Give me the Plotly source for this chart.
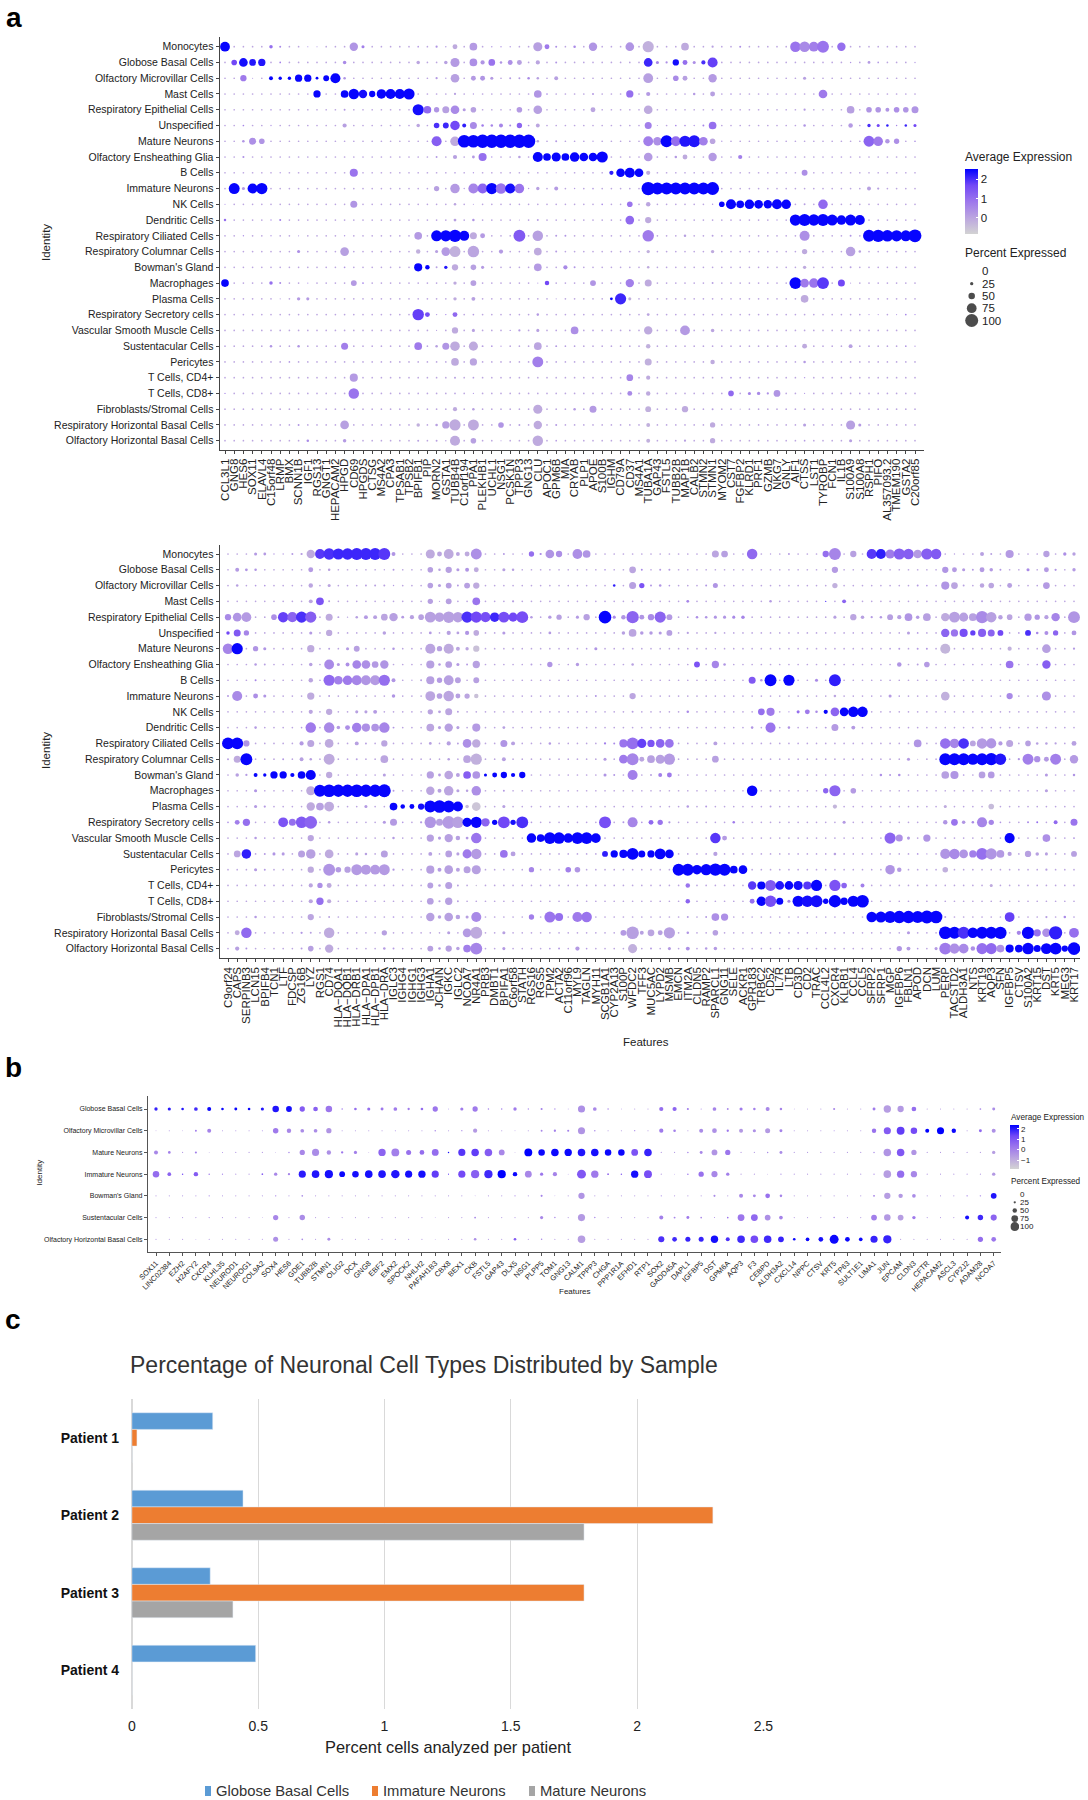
import plotly.graph_objects as go

W, H = 1088, 1800

cells_a = ["Monocytes", "Globose Basal Cells", "Olfactory Microvillar Cells", "Mast Cells", "Respiratory Epithelial Cells",
           "Unspecified", "Mature Neurons", "Olfactory Ensheathing Glia", "B Cells", "Immature Neurons", "NK Cells",
           "Dendritic Cells", "Respiratory Ciliated Cells", "Respiratory Columnar Cells", "Bowman's Gland", "Macrophages",
           "Plasma Cells", "Respiratory Secretory cells", "Vascular Smooth Muscle Cells", "Sustentacular Cells", "Pericytes",
           "T Cells, CD4+", "T Cells, CD8+", "Fibroblasts/Stromal Cells", "Respiratory Horizontal Basal Cells",
           "Olfactory Horizontal Basal Cells"]

genes_a1 = ["CCL3L1", "GNG8", "HES6", "SOX11", "ELAVL4", "C15orf48", "LRMP", "BMX", "SCNN1B", "IGF1", "RGS13", "GNGT1",
            "HEPACAM2", "HPGD", "CD69", "HPGDS", "CTSG", "MS4A2", "CPA3", "TPSAB1", "TPSB2", "BPIFB1", "PIP", "MORN2",
            "GSTA1", "TUBB4B", "C1orf194", "PPA1", "PLEKHB1", "UCHL1", "NSG1", "PCSK1N", "TPPP3", "GNG13", "CLU", "APOC1",
            "GPM6B", "MIA", "CRYAB", "PLP1", "APOE", "S100B", "IGHM", "CD79A", "CD37", "MS4A1", "TUBA1A", "GAP43", "FSTL5",
            "TUBB2B", "MAP1B", "CALB2", "STMN2", "STMN1", "MYOM2", "CST7", "FGFBP2", "KLRD1", "PRF1", "GZMB", "NKG7", "GNLY",
            "AIF1", "CTSS", "LST1", "TYROBP", "FCN1", "IL1B", "S100A9", "S100A8", "RSPH1", "PIFO", "AL357093.2", "TMEM190",
            "GSTA2", "C20orf85"]

genes_a2 = ["C9orf24", "CAPS", "SERPINB3", "LCN15", "BPIFB4", "TCN1", "LTF", "FDCSP", "ZG16B", "LYZ", "RGS1", "CD74",
            "HLA−DQA1", "HLA−DQB1", "HLA−DRB1", "HLA−DPA1", "HLA−DPB1", "HLA−DRA", "IGLC3", "IGHG4", "IGHG1", "IGHG3",
            "IGHA1", "JCHAIN", "IGKC", "IGLC2", "NCOA7", "NR4A1", "PRB3", "DMBT1", "BPIFA1", "C6orf58", "STATH", "RGS16",
            "RGS5", "TPM2", "ACTA2", "C11orf96", "MYL9", "TAGLN", "MYH11", "SCGB1A1", "CYP2A13", "S100P", "WFDC2", "TFF3",
            "MUC5AC", "LYPD2", "MSMB", "EMCN", "ITM2A", "CLDN5", "RAMP2", "SPARCL1", "GNG11", "SELE", "ACKR1", "GPR183",
            "TRBC2", "CD52", "IL7R", "LTB", "CD3D", "CD2", "TRAC", "CCL4L2", "CXCR4", "KLRB1", "CCL4", "CCL5", "SFRP2",
            "SFRP1", "MGP", "IGFBP6", "FBLN1", "APOD", "DCN", "LUM", "PERP", "TACSTD2", "ALDH3A1", "NTS", "KRT19", "AQP3",
            "SFN", "IGFBP5", "CTSV", "S100A2", "KRT15", "DST", "KRT5", "MEG3", "KRT17"]

cells_b = ["Globose Basal Cells", "Olfactory Microvillar Cells", "Mature Neurons", "Immature Neurons", "Bowman's Gland",
           "Sustentacular Cells", "Olfactory Horizontal Basal Cells"]

genes_b = ["SOX11", "LINC02384", "EZH2", "H2AFY2", "CXCR4", "KLHL35", "NEUROD1", "NEUROG1", "COL9A2", "SOX4", "HES6", "GDE1",
           "TUBB2B", "STMN1", "OLIG2", "DCX", "GNG8", "EBF2", "EMX2", "SPOCK2", "NHLH2", "PAFAH1B3", "CBX8", "BEX1", "CKB",
           "FSTL5", "GAP43", "DLX5", "NSG1", "PLPP5", "TOM1", "GNG13", "CALM1", "TPPP3", "CHGA", "PPP1R1A", "EFHD1", "RTP1",
           "SOX2", "GADD45A", "DAPL1", "IGFBP5", "DST", "GPM6A", "AQP3", "F3", "CEBPD", "ALDH3A2", "CXCL14", "NPPC", "CTSV",
           "KRT5", "TP63", "SULT1E1", "LIMA1", "JUN", "EPCAM", "CLDN3", "CFTR", "HEPACAM2", "ASCL3", "CYP2J2", "ADAM28", "NCOA7"]

# cells not listed below are the faint background dots
background_a = (12, 0.0)
background_b = (11, -0.5)

# one list per cell type: (gene index, percent expressed, average expression)
dots_a1 = [
    [(0,70,2.5),(5,25,1.0),(6,14,.5),(9,8,.5),(10,8,.3),(14,60,.3),(15,22,.7),(21,12,.2),(23,16,.3),(24,10,.2),(25,35,-.1),(27,55,.2),(29,10,.3),(30,10,.3),(31,10,.3),(34,65,.1),(35,35,.8),(36,14,.4),(38,18,.5),(40,60,.3),(44,62,.3),(46,80,-.2),(50,55,-.1),(53,16,.1),(56,14,.4),(62,75,.9),(63,75,.5),(64,70,.7),(65,85,.9),(67,60,1.0)],
    [(1,40,1.7),(2,62,2.4),(3,48,2.3),(4,52,2.3),(6,12,.8),(13,25,.5),(21,25,0),(24,25,.1),(25,65,.2),(27,55,.4),(28,30,.3),(29,48,.9),(30,18,.3),(31,35,.4),(32,35,.1),(34,30,0),(36,14,.3),(46,62,2.1),(47,22,.6),(48,16,.4),(49,45,2.4),(50,35,1.0),(51,22,.4),(52,30,2.0),(53,72,1.8),(68,10,.3),(70,20,.2),(71,12,.3),(75,10,.2)],
    [(2,45,.8),(3,8,.3),(5,28,2.5),(6,24,2.5),(7,24,2.5),(8,52,2.5),(9,52,2.5),(10,20,2.5),(11,42,2.5),(12,72,2.5),(13,18,.3),(21,12,.1),(23,16,.2),(24,10,.2),(25,62,.1),(27,35,.2),(28,35,.3),(29,22,.2),(31,14,.2),(32,14,.2),(33,18,.5),(34,18,.1),(36,28,.1),(46,70,.1),(49,40,.5),(50,35,.1),(53,60,.2),(63,22,.1)],
    [(10,52,2.5),(13,55,2.5),(14,75,2.5),(15,60,2.4),(16,45,2.5),(17,68,2.5),(18,72,2.5),(19,72,2.5),(20,80,2.5),(21,12,.1),(25,16,.1),(27,10,.2),(34,55,.3),(35,12,.5),(40,14,.2),(44,52,1.0),(46,30,.2),(51,18,.2),(53,35,.1),(55,12,.2),(65,62,.8)],
    [(5,12,.2),(13,14,.2),(21,80,2.4),(22,55,1.1),(23,38,.3),(24,50,.1),(25,62,.5),(26,22,.2),(27,40,.1),(32,40,.2),(34,62,.1),(40,35,0),(46,62,-.1),(63,16,.2),(68,55,.1),(70,40,.3),(71,40,.3),(72,28,.3),(73,40,.4),(74,40,.3),(75,50,.3)],
    [(2,12,.6),(5,10,.3),(13,30,.1),(21,25,0),(23,40,2.0),(24,42,2.1),(25,68,1.7),(26,28,2.2),(27,50,.5),(28,18,.8),(29,18,.6),(30,28,.6),(31,14,.5),(32,38,1.2),(33,12,.3),(34,28,0),(46,50,.7),(47,8,.3),(49,12,.5),(50,12,.4),(51,10,.4),(52,14,.6),(53,55,1.0),(63,18,.3),(68,32,.2),(70,24,2.0),(71,22,1.7),(72,18,2.2),(73,10,.6),(74,18,2.1),(75,22,1.7)],
    [(2,18,.3),(3,50,.4),(4,40,.3),(23,72,1.3),(25,68,-.1),(26,90,2.5),(27,90,2.5),(28,95,2.5),(29,95,2.5),(30,95,2.5),(31,95,2.5),(32,95,2.5),(33,95,2.5),(34,18,.1),(36,14,.2),(40,10,.2),(46,70,.7),(47,60,.4),(48,85,2.5),(49,70,1.0),(50,80,2.3),(51,85,2.3),(52,62,.7),(53,40,.0),(54,10,.2),(70,78,1.2),(71,68,.8),(72,32,.3),(73,38,.4),(75,12,.3)],
    [(2,15,.4),(23,14,.2),(25,30,.1),(27,20,.2),(28,58,1.0),(29,10,.4),(32,18,.1),(34,72,2.5),(35,55,2.5),(36,65,2.5),(37,55,2.5),(38,68,2.5),(39,62,2.5),(40,62,2.5),(41,80,2.5),(46,62,.2),(47,12,.3),(49,18,.2),(50,35,-.1),(53,60,.2),(56,30,.7)],
    [(6,10,.3),(14,58,.9),(25,12,.1),(27,10,.2),(36,8,.2),(42,30,2.2),(43,62,2.5),(44,72,2.5),(45,62,2.5),(46,30,-.1),(63,42,.4)],
    [(1,78,2.5),(2,22,.2),(3,72,2.5),(4,80,2.5),(23,38,.1),(25,68,.2),(26,10,.2),(27,72,.6),(28,72,1.2),(29,80,2.5),(30,75,.9),(31,72,2.4),(32,68,.9),(33,10,.2),(34,24,.1),(36,28,.2),(38,10,.2),(40,12,.2),(46,95,2.5),(47,85,2.5),(48,85,2.5),(49,85,2.5),(50,85,2.5),(51,85,2.5),(52,85,2.5),(53,92,2.5),(70,28,.1),(71,16,.1)],
    [(0,8,.5),(14,50,.3),(25,18,0),(27,8,.2),(41,12,.5),(44,40,.9),(46,32,0),(53,10,.3),(54,40,2.5),(55,72,2.5),(56,55,2.5),(57,68,2.5),(58,62,2.5),(59,60,2.5),(60,72,2.5),(61,68,2.5),(63,14,.1),(65,68,1.1)],
    [(0,18,1.0),(5,10,.5),(6,14,.7),(21,10,.2),(25,20,.1),(27,18,.3),(32,8,.2),(34,14,.1),(44,62,1.1),(46,45,-.1),(60,10,.3),(62,80,2.5),(63,85,2.5),(64,82,2.5),(65,85,2.5),(66,78,2.5),(67,68,2.5),(68,78,2.5),(69,72,2.5)],
    [(2,10,.4),(5,10,.3),(8,8,.3),(13,10,.3),(21,55,.2),(23,78,2.5),(24,80,2.5),(25,88,2.5),(26,72,2.5),(27,50,-.1),(28,35,.2),(32,85,1.4),(34,75,.1),(36,14,.2),(37,14,.3),(46,82,.8),(50,18,.1),(53,14,.1),(63,72,.4),(68,14,.3),(70,85,2.5),(71,88,2.5),(72,82,2.5),(73,80,2.5),(74,78,2.5),(75,92,2.5)],
    [(8,22,.4),(13,62,.1),(21,32,-.2),(23,22,.1),(24,62,.2),(25,78,-.2),(27,82,0),(30,30,.2),(32,12,.1),(34,55,-.1),(36,14,.2),(46,24,-.2),(53,24,-.1),(63,38,-.1),(68,68,.1),(69,18,.1)],
    [(13,12,.3),(21,58,2.5),(22,32,2.5),(23,14,.1),(24,24,2.3),(25,45,-.1),(27,40,.1),(28,22,.2),(34,55,.2),(37,30,.5),(38,14,.3),(46,18,-.1),(63,24,-.1),(68,14,.1)],
    [(0,55,2.5),(5,25,1.0),(6,14,.5),(9,8,.5),(14,42,.2),(15,12,.7),(25,24,-.1),(27,42,.1),(34,8,.2),(35,32,1.7),(40,42,.3),(44,60,.7),(46,50,-.1),(53,14,.1),(62,85,2.5),(63,62,.8),(64,68,.9),(65,85,1.9),(67,50,1.7),(68,8,.2)],
    [(6,8,.2),(8,24,.2),(9,22,.2),(25,24,-.1),(27,28,.1),(36,8,.1),(42,20,2.5),(43,80,2.1),(44,22,-.2),(63,55,-.1)],
    [(21,82,1.8),(22,35,1.6),(23,10,.2),(24,10,.6),(25,35,1.1),(27,12,.2),(34,18,.2),(46,20,0),(70,8,.4),(71,8,.3),(73,8,.3),(74,12,.6),(75,10,.5)],
    [(23,8,.1),(25,45,-.1),(27,22,.1),(31,10,.3),(32,16,.2),(34,22,.1),(36,12,.1),(38,55,.4),(40,12,.2),(46,60,-.1),(50,70,.2),(53,25,0)],
    [(5,18,.3),(8,18,.3),(13,50,.7),(21,55,.8),(23,18,.1),(24,50,.3),(25,68,-.1),(27,65,-.1),(28,14,.1),(29,12,.2),(30,10,.2),(34,55,.0),(36,14,.2),(37,12,.1),(38,12,.1),(46,32,-.2),(63,35,-.1),(68,28,.1),(70,12,.2),(74,12,.3),(75,10,.2)],
    [(7,12,.3),(25,55,-.1),(27,52,0),(34,78,.7),(36,12,.1),(46,50,-.2),(50,12,.1),(53,32,-.1),(63,18,.2)],
    [(14,58,.2),(25,14,.1),(27,12,.2),(44,48,.6),(46,30,-.1),(55,12,.3),(63,10,.3)],
    [(0,10,.5),(14,75,.9),(25,12,.1),(27,8,.3),(44,35,.5),(46,32,-.1),(55,40,1.1),(57,22,.6),(58,24,.5),(59,16,.4),(60,48,.3),(63,8,.3)],
    [(9,8,.2),(25,30,-.1),(27,18,.1),(34,65,-.1),(38,18,.2),(39,12,.2),(40,50,.2),(46,42,-.2),(50,45,-.1),(53,14,.1),(56,8,.1)],
    [(8,14,.3),(13,62,.1),(21,25,-.2),(23,18,.1),(24,52,.1),(25,80,-.1),(27,78,-.1),(30,40,.3),(32,14,.1),(34,60,-.1),(36,14,.2),(46,28,-.2),(53,38,-.1),(63,22,.1),(68,65,.1),(69,22,.2)],
    [(9,18,.5),(13,25,.2),(21,14,.1),(23,14,.1),(24,10,.1),(25,72,-.1),(27,40,.1),(30,8,.2),(34,75,-.1),(36,12,.2),(46,28,-.2),(50,16,.1),(53,38,-.1),(63,12,.2),(68,22,.1)],
]

dots_a2 = [
    [(3,22,.2),(4,20,.2),(5,10,.2),(6,10,.2),(7,14,.2),(8,16,.2),(9,60,-.1),(10,70,1.9),(11,82,2.0),(12,80,2.1),(13,82,2.1),(14,85,2.1),(15,85,2.1),(16,85,2.1),(17,85,1.9),(18,28,.3),(22,65,-.1),(23,35,0),(24,70,-.1),(25,28,0),(26,35,-.1),(27,78,.4),(30,14,.2),(32,10,.1),(33,38,1.0),(34,16,.5),(35,62,.3),(36,45,.4),(38,70,.4),(39,55,.3),(53,50,.0),(54,48,.1),(57,75,1.1),(59,10,.1),(61,14,.2),(65,45,1.0),(66,85,.6),(68,45,.1),(70,72,1.9),(71,72,2.2),(72,65,.8),(73,80,1.3),(74,75,1.3),(75,62,.2),(76,80,1.3),(77,75,1.4),(79,10,.1),(82,28,.1),(83,14,.1),(85,58,.2),(89,45,.1),(91,24,.4),(92,24,.1)],
    [(1,28,.2),(2,20,.3),(3,18,.3),(9,35,.2),(11,18,.1),(17,10,.1),(18,14,.2),(22,40,.1),(23,18,.1),(24,45,.1),(25,22,.2),(26,28,.3),(27,35,-.1),(30,22,.1),(31,18,.1),(41,12,.3),(44,48,0),(45,14,.5),(47,14,.2),(48,14,.2),(66,45,.2),(78,45,.3),(79,35,.2),(80,22,.2),(81,14,.2),(82,35,.2),(83,25,.2),(84,14,.3),(87,22,.5),(89,35,.2),(90,16,.3),(92,24,.2)],
    [(1,18,.1),(3,12,.2),(4,12,.2),(9,32,0),(11,22,.0),(15,14,.1),(16,14,.1),(17,14,.1),(18,10,.2),(22,40,.1),(23,22,.1),(24,42,.1),(25,14,.2),(26,42,.1),(27,45,-.1),(42,18,2.2),(44,50,.1),(45,38,1.5),(46,14,.3),(47,18,.3),(48,12,.3),(52,14,.3),(53,36,.3),(66,38,-.2),(75,14,.2),(76,12,.2),(78,58,.3),(79,48,.0),(80,14,.1),(82,32,0),(83,40,0),(85,35,.1),(89,48,.2)],
    [(9,28,0),(10,55,1.5),(11,14,.1),(22,38,.1),(23,10,.1),(24,42,.1),(25,12,.1),(27,55,.9),(31,16,.1),(50,20,.6),(59,18,.2),(65,10,2.0),(67,28,1.2),(82,14,.1)],
    [(0,45,.5),(1,62,.3),(2,70,.2),(5,40,.4),(6,75,1.8),(7,72,1.2),(8,80,2.0),(9,80,1.3),(11,50,-.1),(12,14,.1),(13,10,.1),(14,18,.1),(15,28,.2),(16,28,.1),(17,48,0),(18,60,.1),(19,20,.2),(20,30,.1),(21,40,.1),(22,78,.1),(23,68,.1),(24,82,.1),(25,75,.1),(26,80,2.0),(27,80,1.7),(28,72,1.6),(29,68,2.1),(30,78,1.6),(31,65,1.7),(32,85,1.6),(33,18,.2),(35,24,.2),(36,38,.1),(38,22,.2),(39,45,.1),(41,90,2.5),(42,22,.5),(43,32,.3),(44,88,1.2),(45,35,.3),(46,45,.5),(47,80,1.2),(48,42,.2),(50,12,.2),(51,18,.4),(52,18,.3),(53,22,.3),(54,22,.3),(55,22,.5),(56,25,.6),(66,22,.1),(68,45,0),(69,25,.1),(70,16,.2),(71,18,.2),(72,42,.1),(73,30,.1),(74,55,.3),(75,25,.2),(76,55,.1),(78,60,-.1),(79,78,.1),(80,65,.1),(81,55,.1),(82,88,.5),(83,75,.1),(84,32,.1),(85,40,0),(87,52,.2),(88,38,.3),(89,30,.1),(90,60,.6),(92,85,.3)],
    [(0,25,1.7),(1,50,1.4),(2,38,.6),(9,22,.2),(11,45,-.1),(17,25,.1),(22,20,.2),(24,30,.1),(25,20,.1),(26,30,.3),(27,40,-.1),(30,22,.2),(35,20,.2),(43,25,.1),(44,55,0),(45,25,.2),(46,25,.2),(47,22,.2),(48,42,.1),(50,16,.1),(53,16,.1),(74,22,.1),(75,12,.2),(78,60,1.2),(79,52,.9),(80,58,1.6),(81,38,1.8),(82,58,1.3),(83,50,1.2),(84,42,1.7),(86,12,.2),(87,42,2.0),(88,18,.6),(89,28,.4),(90,38,1.2),(92,35,.3)],
    [(0,75,.6),(1,80,2.5),(3,38,.3),(4,22,.3),(9,52,-.1),(11,14,.1),(13,22,.2),(14,42,.1),(18,18,.3),(22,72,0),(23,38,.1),(24,72,-.1),(25,28,0),(26,24,0),(27,45,-.5),(39,12,.2),(40,22,.3),(53,10,.2),(72,12,.2),(73,14,.2),(75,14,.2),(76,14,.2),(78,72,-.3),(85,30,-.2),(89,62,.1),(92,16,.2)],
    [(3,18,.2),(4,14,.1),(9,25,.1),(11,70,.5),(12,22,.2),(13,28,.4),(14,62,.6),(15,62,.4),(16,48,.2),(17,60,.3),(22,58,.1),(23,18,.2),(24,48,.1),(25,22,.2),(26,14,.2),(27,52,.1),(33,14,.1),(35,38,.3),(36,10,.1),(38,24,.2),(44,18,.1),(51,42,1.5),(53,52,.6),(54,18,.3),(73,32,.3),(75,14,.1),(76,40,.2),(85,55,.9),(89,60,1.3),(91,12,.1)],
    [(3,14,.6),(9,32,0),(11,80,1.1),(12,62,.7),(13,68,.8),(14,72,.6),(15,70,.3),(16,72,.2),(17,80,1.0),(18,28,.3),(20,10,.1),(21,14,.1),(22,58,.1),(23,38,.2),(24,70,.1),(25,42,.1),(27,42,.1),(57,50,1.4),(58,18,.2),(59,85,2.5),(61,80,2.5),(64,22,.5),(66,85,2.2)],
    [(0,14,.2),(1,72,.5),(3,35,.4),(4,22,.3),(9,52,-.1),(11,14,.1),(18,25,.3),(22,70,0),(23,40,.1),(24,75,0),(25,35,.1),(26,38,0),(27,32,-.5),(40,14,.3),(44,45,0),(66,18,0),(72,22,.2),(73,12,.2),(78,62,-.2),(85,45,.5),(89,65,.4)],
    [(9,30,0),(10,12,.1),(11,45,-.1),(14,22,.1),(15,22,.1),(16,28,.2),(22,38,0),(23,20,.1),(24,50,0),(25,14,.1),(44,14,.1),(50,18,.5),(58,48,1.0),(59,58,.8),(61,10,.4),(62,22,1.0),(63,35,.8),(64,18,.5),(65,30,2.5),(66,62,1.2),(67,62,2.5),(68,75,2.5),(69,75,2.5)],
    [(3,18,.2),(8,12,.2),(9,75,.8),(11,75,.5),(12,25,.2),(13,35,.4),(14,68,.7),(15,58,.4),(16,55,.3),(17,75,.6),(18,14,.3),(22,55,0),(23,22,.1),(24,60,.1),(25,22,.1),(27,58,.2),(30,20,.1),(57,18,.3),(59,72,.9),(61,18,.3),(65,14,.2),(66,50,.2),(68,28,.2)],
    [(0,85,2.5),(1,85,2.5),(2,45,.3),(8,30,.2),(9,50,0),(11,62,-.1),(14,28,.1),(15,14,.1),(17,45,0),(22,20,.1),(24,30,.1),(25,14,.1),(26,62,.4),(27,60,-.1),(30,50,.3),(31,28,.1),(35,18,.2),(41,16,.7),(42,14,.5),(43,58,.9),(44,85,1.0),(45,65,1.8),(46,52,1.5),(47,62,1.2),(48,62,.9),(53,28,.1),(75,55,.3),(78,75,1.0),(79,68,.6),(80,75,2.0),(81,42,.0),(82,75,.2),(83,72,.3),(84,30,.2),(85,50,0),(87,40,.1),(88,18,.1),(89,18,.1),(90,16,.1),(92,35,.1)],
    [(0,14,.1),(1,50,-.1),(2,85,2.5),(6,14,.2),(8,28,.1),(9,18,.1),(11,78,-.1),(14,14,.1),(17,55,0),(24,18,.1),(26,55,.0),(27,80,-.2),(30,28,.1),(41,22,.2),(43,62,.8),(44,85,.6),(45,35,.0),(46,55,.1),(47,65,.1),(48,80,.2),(53,48,.1),(74,22,.2),(75,8,.1),(78,85,2.5),(79,85,2.5),(80,85,2.5),(81,80,2.5),(82,85,2.5),(83,88,2.5),(84,82,2.3),(86,16,.3),(87,78,.7),(88,45,.4),(89,35,.2),(90,78,.7),(92,60,.2)],
    [(1,25,.1),(2,16,.2),(3,28,2.5),(4,24,2.5),(5,52,2.5),(6,52,2.5),(7,30,2.5),(8,55,2.5),(9,72,2.5),(11,45,-.1),(17,22,.1),(22,52,.1),(23,20,.2),(24,62,0),(25,28,.1),(26,55,1.3),(27,55,.3),(28,22,2.5),(29,35,2.5),(30,45,2.5),(31,30,2.5),(32,45,2.5),(41,22,.3),(42,14,.3),(44,72,.7),(46,14,.1),(47,28,.7),(48,35,.8),(71,18,.4),(72,14,.3),(73,18,.4),(78,55,.1),(79,58,.3),(80,12,.2),(82,48,.1),(83,48,.2),(89,22,.2),(92,18,.3)],
    [(3,22,.3),(9,65,-.1),(10,85,2.5),(11,90,2.5),(12,88,2.5),(13,88,2.5),(14,90,2.5),(15,88,2.5),(16,88,2.5),(17,92,2.5),(18,14,.2),(22,60,0),(23,28,.1),(24,68,0),(25,22,.1),(26,18,.1),(27,68,.4),(30,14,.2),(57,75,2.5),(59,14,.1),(65,38,1.2),(66,80,1.2),(68,40,.2),(89,22,.1)],
    [(3,22,.2),(4,16,.2),(9,60,-.1),(10,55,.1),(11,70,-.1),(15,22,.2),(18,55,2.5),(19,32,2.5),(20,35,2.5),(21,45,2.4),(22,85,2.5),(23,90,2.5),(24,85,2.5),(25,72,2.5),(26,25,-.4),(27,62,-.6),(30,22,.1),(50,18,.2),(52,14,.2),(59,14,.1),(66,30,-.3),(78,22,-.1),(83,40,-.4)],
    [(0,12,.4),(1,35,.7),(2,52,1.0),(6,70,1.5),(7,50,1.0),(8,82,1.4),(9,90,1.2),(11,18,.2),(17,22,.2),(18,50,.2),(19,12,.2),(21,16,.2),(22,82,.3),(23,50,.1),(24,90,.2),(25,82,.1),(26,65,2.5),(27,80,2.5),(28,60,1.2),(29,38,2.5),(30,85,1.7),(31,38,2.4),(32,85,2.0),(33,12,.2),(41,85,1.6),(43,14,.3),(44,72,.6),(45,12,.3),(46,35,1.1),(47,38,.9),(48,16,.3),(55,18,.8),(67,22,.2),(78,32,.3),(79,48,.9),(80,25,.3),(81,18,.5),(82,72,.6),(83,38,.6),(84,12,.3),(87,14,.5),(88,14,1.0),(90,28,1.1),(92,50,.9)],
    [(3,18,.2),(4,12,.1),(9,45,0),(18,18,.2),(22,52,.1),(23,22,.2),(24,60,.1),(25,32,.1),(26,20,.2),(27,75,.9),(33,68,2.5),(34,55,2.5),(35,85,2.5),(36,82,2.5),(37,68,2.5),(38,85,2.5),(39,85,2.5),(40,70,2.5),(53,75,1.9),(54,35,.2),(70,12,.1),(72,80,1.2),(73,50,.4),(74,22,.2),(76,52,.3),(78,14,.1),(85,72,2.5),(89,55,.4),(92,14,.2)],
    [(1,48,0),(2,68,2.2),(4,14,.2),(5,22,.3),(6,22,.2),(8,50,.1),(9,68,.1),(11,62,-.1),(14,22,.1),(15,18,.1),(17,50,.1),(22,28,.1),(24,48,.1),(25,22,.1),(26,65,.8),(27,75,.2),(30,55,.9),(31,35,.1),(41,42,2.2),(42,52,2.5),(43,58,2.5),(44,85,2.5),(45,50,2.5),(46,52,2.5),(47,78,2.5),(48,62,2.5),(53,30,.1),(66,18,.1),(75,12,.2),(76,10,.2),(78,72,.3),(79,75,.5),(80,62,.3),(81,52,.7),(82,85,1.0),(83,80,.3),(84,55,.2),(85,30,.1),(87,45,.1),(88,25,.1),(89,22,.1),(92,42,.1)],
    [(3,22,.2),(4,14,.2),(9,45,-.1),(11,85,.3),(12,40,.2),(13,45,.1),(14,78,.2),(15,72,.2),(16,70,.2),(17,78,.2),(18,16,.3),(22,58,.1),(23,28,.2),(24,62,.1),(25,28,.1),(26,50,.1),(27,65,.1),(33,38,.6),(37,40,.7),(38,40,.3),(49,85,2.5),(50,85,2.5),(51,68,2.5),(52,80,2.5),(53,88,2.5),(54,85,2.5),(55,55,2.5),(56,62,2.5),(72,68,.3),(73,32,.2),(78,40,-.2),(89,16,.1)],
    [(9,30,0),(10,38,.4),(11,35,-.1),(22,42,.1),(23,18,.1),(24,50,.1),(25,14,.1),(27,10,-.4),(50,32,.9),(57,60,1.9),(58,58,2.5),(59,78,1.4),(60,62,2.3),(61,62,2.5),(62,65,2.4),(63,58,1.9),(64,80,2.5),(66,80,1.5),(67,40,1.2),(69,28,.7),(83,22,-.1)],
    [(9,30,0),(10,52,1.0),(11,30,-.1),(14,12,.2),(22,48,.1),(23,16,.1),(24,52,.1),(25,14,.1),(50,32,1.2),(57,35,1.0),(58,68,2.5),(59,82,1.6),(60,50,2.5),(61,22,.6),(62,80,2.5),(63,82,2.4),(64,85,2.4),(65,38,2.5),(66,88,2.5),(67,52,2.5),(68,80,2.5),(69,90,2.5)],
    [(3,18,.2),(9,45,0),(11,14,.1),(18,12,.3),(22,60,.1),(23,25,.1),(24,62,.1),(25,32,.1),(26,22,.1),(27,72,.5),(33,38,.7),(35,78,.9),(36,58,1.0),(38,72,.8),(39,75,.9),(50,14,.2),(52,14,.2),(53,55,.4),(54,52,.4),(70,75,2.5),(71,78,2.5),(72,85,2.5),(73,88,2.5),(74,88,2.5),(75,85,2.5),(76,92,2.5),(77,90,2.5),(78,14,.1),(85,70,1.8),(89,16,.1),(91,18,.5),(92,12,.1)],
    [(1,35,-.1),(2,75,1.1),(8,16,.3),(9,14,.1),(11,75,-.1),(17,38,.1),(24,22,.1),(26,62,.2),(27,85,-.1),(30,22,.1),(43,42,.2),(44,90,.1),(45,28,.1),(46,48,.0),(47,35,.1),(48,80,.1),(50,18,.3),(53,40,.1),(64,8,.2),(74,22,.2),(78,90,2.5),(79,85,2.5),(80,85,2.0),(81,75,2.5),(82,85,2.5),(83,85,2.5),(84,88,2.5),(86,30,.6),(87,88,2.5),(88,52,1.0),(89,60,.4),(90,95,2.2),(92,70,1.0)],
    [(1,30,.1),(2,14,.3),(4,10,.2),(8,14,.2),(9,40,.1),(11,60,-.1),(17,18,.2),(18,14,.2),(22,42,.1),(23,18,.2),(24,45,.1),(25,25,.1),(26,55,.7),(27,85,.6),(30,22,.2),(35,12,.2),(36,14,.2),(38,30,.2),(39,12,.2),(44,65,-.2),(46,14,.2),(48,22,.2),(50,28,.4),(52,18,.2),(53,25,.2),(73,38,.3),(74,28,.2),(75,12,.2),(77,22,.2),(78,85,.8),(79,72,.4),(80,70,.5),(81,32,.4),(82,80,1.0),(83,80,1.1),(84,55,.4),(85,58,2.5),(86,55,2.5),(87,82,2.5),(88,50,2.5),(89,78,2.5),(90,85,2.5),(91,45,2.5),(92,90,2.5)],
]

dots_b = [
    [(0,32,1.9),(1,30,2.0),(2,25,2.1),(3,35,1.8),(4,38,2.3),(5,25,2.3),(6,28,2.3),(7,25,2.3),(8,30,2.1),(9,62,2.1),(10,55,2.2),(11,50,.9),(12,45,.8),(13,62,.3),(14,14,.3),(15,25,.5),(16,30,.5),(17,28,.3),(18,35,.2),(19,22,.2),(20,25,.5),(21,50,.3),(22,8,.5),(23,30,.2),(24,50,.2),(25,14,.1),(26,14,.2),(27,32,.2),(28,12,.1),(29,20,.1),(30,12,.1),(31,8,.1),(32,68,-.3),(33,35,-.1),(34,14,0),(35,8,0),(38,40,.5),(39,40,.7),(40,20,.2),(41,10,0),(42,35,.0),(43,18,-.1),(44,30,.2),(45,24,.1),(46,38,-.1),(47,24,0),(48,8,-.3),(51,20,-.1),(54,28,.2),(55,70,-.6),(56,60,-.5),(57,45,.5),(62,16,.0),(63,28,-.2)],
    [(0,8,-.5),(2,8,-.5),(3,18,.2),(4,38,.0),(8,10,-.2),(9,52,.2),(10,42,-.1),(11,35,-.2),(12,35,-.2),(13,50,-.4),(18,10,-.2),(21,14,-.1),(23,12,0),(24,40,-.5),(27,8,-.2),(29,18,-.1),(30,22,.1),(31,20,.1),(32,68,-.4),(33,14,-.1),(36,12,-.1),(38,40,.2),(39,25,.1),(41,38,-.2),(42,45,-.3),(43,22,.3),(44,38,-.5),(45,30,-.3),(46,48,-.5),(47,28,.0),(51,10,-.2),(54,42,.4),(55,68,.9),(56,75,1.5),(57,62,1.3),(58,38,2.4),(59,68,2.4),(60,42,2.3),(62,28,.6),(63,38,-.3)],
    [(0,38,-.1),(1,25,.1),(3,20,.1),(4,8,-.5),(5,10,-.3),(9,8,-.5),(10,14,0),(11,50,-.1),(12,68,-.2),(13,42,-.3),(14,22,.3),(15,30,.1),(16,8,-.5),(17,70,.7),(18,75,.1),(19,48,.4),(20,45,.5),(21,65,.5),(22,14,2.2),(23,68,1.6),(24,72,1.5),(25,72,.9),(26,55,-.1),(27,8,-.5),(28,75,2.4),(29,62,2.3),(30,72,2.3),(31,70,2.3),(32,72,2.1),(33,72,2.2),(34,62,2.3),(35,62,2.3),(36,65,1.1),(37,72,1.9),(40,14,0),(41,28,-.1),(42,55,-.4),(43,50,.3),(46,14,-.2),(47,28,-.2),(54,14,-.2),(55,72,-.4),(56,72,1.0),(57,50,-.4),(63,32,-.6)],
    [(0,62,.5),(1,35,.7),(2,14,1.3),(3,42,.9),(4,14,.2),(5,12,.1),(8,16,.8),(9,32,-.1),(10,22,0),(11,68,2.0),(12,72,2.1),(13,78,2.2),(14,55,2.3),(15,62,2.2),(16,72,2.2),(17,72,2.1),(18,80,2.1),(19,68,2.2),(20,70,2.2),(21,68,1.5),(22,10,1.5),(23,68,1.3),(24,78,.8),(25,78,1.8),(26,78,2.4),(27,42,2.3),(28,65,-.1),(29,30,.3),(30,40,.0),(31,8,-.1),(32,85,1.0),(33,70,.2),(34,18,.4),(35,14,.9),(36,70,2.2),(37,75,1.2),(39,8,-.2),(40,14,.4),(41,50,.4),(42,58,-.1),(43,32,.1),(46,8,-.4),(47,12,-.2),(54,12,-.1),(55,72,-.6),(56,70,.5),(57,60,-.1),(63,32,-.5)],
    [(4,12,-.1),(9,14,-.1),(11,16,-.2),(27,12,-.1),(24,8,-.1),(29,20,0),(30,8,-.1),(32,60,-.4),(38,12,-.1),(42,20,-.2),(44,38,-.1),(45,28,-.1),(46,45,.4),(47,24,.0),(54,18,-.1),(55,60,-.6),(56,42,-.5),(57,35,-.2),(61,14,.1),(62,14,.0),(63,55,2.1)],
    [(4,12,-.2),(8,8,-.2),(9,50,-.1),(11,52,-.2),(13,10,0),(21,8,-.1),(24,18,-.2),(29,30,-.1),(30,14,-.1),(32,68,-.5),(33,14,-.1),(38,38,.1),(39,18,.0),(40,28,.2),(41,16,-.1),(42,10,-.2),(43,16,.3),(44,65,.3),(45,65,.6),(46,55,-.3),(47,35,.0),(51,14,-.1),(54,55,.1),(55,62,-.5),(56,55,-.6),(57,32,.2),(61,38,2.2),(62,52,1.8),(63,58,.7)],
    [(3,8,-.2),(8,10,-.1),(9,48,-.3),(11,16,-.2),(13,28,-.2),(21,8,-.2),(24,25,-.3),(27,25,.9),(29,14,-.1),(32,72,-.6),(38,58,1.7),(39,45,1.8),(40,48,1.9),(41,48,1.9),(42,70,2.2),(43,38,1.7),(44,72,1.8),(45,72,1.3),(46,72,1.8),(47,55,1.9),(48,25,2.3),(49,35,2.3),(50,45,2.2),(51,85,2.3),(52,45,2.3),(53,35,2.3),(54,68,1.9),(55,78,1.9),(56,12,-.6),(62,50,.5),(63,45,.3)],
]

legend_pct = [0, 25, 50, 75, 100]

patients = ["Patient 1", "Patient 2", "Patient 3", "Patient 4"]
globose = [0.32, 0.44, 0.31, 0.49]
immature = [0.02, 2.3, 1.79, 0]
mature = [0, 1.79, 0.4, 0]

FONT = "Liberation Sans"
INK = "#222222"
# Seurat lightgrey -> blue gradient, interpolated in Lab
GRADIENT = [[0, "#D3D3D3"], [0.25, "#BBA5E0"], [0.5, "#9D77EC"], [0.75, "#7248F6"], [1, "#0000FF"]]


def fx(px):
    return px / W


def fy(px):
    return 1 - px / H


fig = go.Figure()


def dotplot(n, cells, genes, dots, background, scale, coloraxis, box, first, last, ysize, xsize, angle, linecolor):
    # box = left, right, top, bottom of the axes in page pixels
    # first, last = pixel of the first and last column centre
    left, right, top, bottom, row0, rowN = box
    xs, ys, sizes, colors = [], [], [], []
    for i, cell in enumerate(cells):
        found = {j: (p, e) for j, p, e in dots[i]}
        for j, gene in enumerate(genes):
            p, e = found.get(j, background)
            xs.append(gene)
            ys.append(cell)
            sizes.append(p * scale)
            colors.append(e)
    sfx = "" if n == 1 else str(n)
    fig.add_trace(go.Scatter(x=xs, y=ys, mode="markers", xaxis="x" + sfx, yaxis="y" + sfx, showlegend=False,
                             marker=dict(size=sizes, color=colors, coloraxis=coloraxis, line_width=0, opacity=1)))
    colw = (last - first) / (len(genes) - 1)
    rowh = (rowN - row0) / (len(cells) - 1)
    fig.update_layout({
        "xaxis" + sfx: dict(domain=[fx(left), fx(right)], anchor="y" + sfx, type="category", categoryorder="array",
                            categoryarray=genes, tickmode="array", tickvals=genes, ticktext=genes,
                            range=[(left - first) / colw, (right - first) / colw], automargin=False,
                            tickangle=angle, tickfont=dict(size=xsize, color=INK), ticks="outside", ticklen=3,
                            tickcolor=linecolor, showline=True, linecolor=linecolor, linewidth=1.2, showgrid=False, zeroline=False),
        "yaxis" + sfx: dict(domain=[fy(bottom), fy(top)], anchor="x" + sfx, type="category", categoryorder="array",
                            categoryarray=cells, tickmode="array", tickvals=cells, ticktext=cells,
                            range=[(bottom - row0) / rowh, (top - row0) / rowh], automargin=False,
                            tickfont=dict(size=ysize, color=INK), ticks="outside", ticklen=3, tickcolor=linecolor,
                            showline=True, linecolor=linecolor, linewidth=1.2, showgrid=False, zeroline=False),
    })


dotplot(1, cells_a, genes_a1, dots_a1, background_a, 0.14, "coloraxis", (219.6, 924, 37, 450, 46.7, 440.7), 225, 915, 10.5, 11.5, -90, "#444444")
dotplot(2, cells_a, genes_a2, dots_a2, background_a, 0.14, "coloraxis", (219.6, 1080, 544.5, 958.3, 554, 948.6), 228, 1074, 10.5, 11.5, -90, "#444444")
dotplot(3, cells_b, genes_b, dots_b, background_b, 0.105, "coloraxis2", (148, 1001, 1095.7, 1252, 1109, 1239.3), 156, 993.7, 7, 7.4, -45, "#555555")

# panel c
for name, vals, col in [("Globose Basal Cells", globose, "#5B9BD5"), ("Immature Neurons", immature, "#ED7D31"), ("Mature Neurons", mature, "#A5A5A5")]:
    fig.add_trace(go.Bar(y=patients, x=vals, orientation="h", name=name, marker_color=col, xaxis="x4", yaxis="y4", showlegend=False))

# percent expressed legends
pct_labels = [str(p) for p in legend_pct]
for sfx, scale, box, fsize in [("5", 0.13, (962.4, 981, 265, 332), 11.5), ("6", 0.09, (1010.5, 1019, 1189, 1234.5), 8)]:
    fig.add_trace(go.Scatter(x=[0] * len(legend_pct), y=pct_labels, mode="markers", xaxis="x" + sfx, yaxis="y" + sfx,
                             showlegend=False, marker=dict(size=[p * scale for p in legend_pct], color="black", line_width=0)))
    fig.update_layout({
        "xaxis" + sfx: dict(domain=[fx(box[0]), fx(box[1])], anchor="y" + sfx, visible=False, range=[-1, 1], automargin=False),
        "yaxis" + sfx: dict(domain=[fy(box[3]), fy(box[2])], anchor="x" + sfx, side="right", type="category",
                            categoryorder="array", categoryarray=pct_labels, autorange="reversed", automargin=False,
                            tickmode="array", tickvals=pct_labels, ticktext=pct_labels,
                            showline=False, showgrid=False, zeroline=False, ticks="", tickfont=dict(size=fsize, color=INK)),
    })


def label(text, x, y, size, color=INK, bold=False, angle=0, anchor="center", family=FONT):
    fig.add_annotation(text="<b>%s</b>" % text if bold else text, x=fx(x), y=fy(y), xref="paper", yref="paper", showarrow=False,
                       xanchor=anchor, yanchor="middle", textangle=angle, font=dict(size=size, color=color, family=family))


label("a", 4, 17, 28, "black", True, anchor="left")
label("b", 3, 1067, 28, "black", True, anchor="left")
label("c", 3, 1319, 28, "black", True, anchor="left")
label("Identity", 46, 243, 11.5, angle=-90)
label("Identity", 46, 751, 11.5, angle=-90)
label("Identity", 38.6, 1173, 8, angle=-90)
label("Features", 646, 1042, 11.5)
label("Features", 575, 1291.7, 8)
label("Average Expression", 962.7, 157, 12, anchor="left")
label("Percent Expressed", 962.7, 252.7, 12, anchor="left")
label("Average Expression", 1008.5, 1117, 8.2, anchor="left")
label("Percent Expressed", 1008.5, 1181.7, 8.2, anchor="left")
label("Percentage of Neuronal Cell Types Distributed by Sample", 127.5, 1365, 23, "#333333", anchor="left")
label("Percent cells analyzed per patient", 447.6, 1747, 16.4, "#222222")

for text, x, col in [("Globose Basal Cells", 208, "#5B9BD5"), ("Immature Neurons", 375, "#ED7D31"), ("Mature Neurons", 532, "#A5A5A5")]:
    fig.add_shape(type="rect", xref="paper", yref="paper", x0=fx(x - 3), x1=fx(x + 3), y0=fy(1796), y1=fy(1786), fillcolor=col, line_width=0)
    label(text, x + 6, 1791, 14.8, "#333333", anchor="left")

fig.update_layout(
    width=W, height=H, margin=dict(l=0, r=0, t=0, b=0, autoexpand=False), paper_bgcolor="white", plot_bgcolor="white",
    font=dict(family=FONT, color=INK), barmode="group", bargap=0.355, bargroupgap=0,
    coloraxis=dict(colorscale=GRADIENT, cmin=-0.85, cmax=2.55,
                   colorbar=dict(x=fx(964.7), xanchor="left", y=fy(201.4), yanchor="middle", lenmode="pixels", len=65.3,
                                 thicknessmode="pixels", thickness=13, xpad=0, ypad=0, outlinewidth=0, ticks="inside", ticklen=2,
                                 tickcolor="white", tickvals=[0, 1, 2], tickfont=dict(size=11.5, color=INK))),
    coloraxis2=dict(colorscale=GRADIENT, cmin=-1.85, cmax=2.4,
                    colorbar=dict(x=fx(1010), xanchor="left", y=fy(1146.8), yanchor="middle", lenmode="pixels", len=44.2,
                                  thicknessmode="pixels", thickness=9, xpad=0, ypad=0, outlinewidth=0, ticks="inside", ticklen=1.5,
                                  tickcolor="white", tickvals=[-1, 0, 1, 2], tickfont=dict(size=8, color=INK))),
    xaxis4=dict(domain=[fx(131.9), fx(763.4)], anchor="y4", range=[0, 2.5], tickvals=[0, 0.5, 1, 1.5, 2, 2.5], ticktext=["0", "0.5", "1", "1.5", "2", "2.5"],
                showgrid=True, gridcolor="#D9D9D9", gridwidth=1, zeroline=True, zerolinecolor="#D9D9D9", showline=False, automargin=False,
                ticks="outside", ticklen=4, tickcolor="rgba(0,0,0,0)", tickfont=dict(size=14, color="#222222")),
    yaxis4=dict(domain=[fy(1709), fy(1399)], anchor="x4", type="category", categoryorder="array", categoryarray=patients, autorange="reversed",
                showgrid=False, zeroline=False, showline=False, ticks="outside", ticklen=9, tickcolor="rgba(0,0,0,0)", automargin=False,
                tickfont=dict(size=14, color="#111111", family="Liberation Sans", weight="bold")),
)

fig.write_html("out.html", config={"displayModeBar": False}, post_script="document.body.style.margin='0';")
